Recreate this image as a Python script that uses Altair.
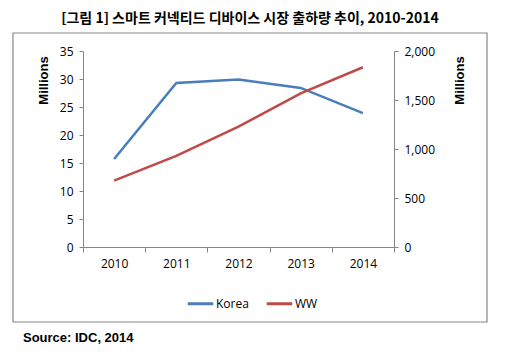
import altair as alt
import pandas as pd

years = ["2010", "2011", "2012", "2013", "2014"]
korea = [15.7, 29.3, 29.9, 28.4, 23.9]
ww = [677, 929, 1228, 1568, 1834]
series = ["Korea", "WW"]
colors = ["#4A7EBB", "#BE4B48"]
left_ticks = [0, 5, 10, 15, 20, 25, 30, 35]
right_ticks = [0, 500, 1000, 1500, 2000]
title_text = "[그림 1] 스마트 커넥티드 디바이스 시장 출하량 추이, 2010-2014"
source_text = "Source: IDC, 2014"
axis_title = "Millions"

df = pd.DataFrame({
    "year": years * 2,
    "series": ["Korea"] * len(years) + ["WW"] * len(years),
    "value": korea + ww,
})
one = pd.DataFrame({"t": [title_text], "s": [source_text]})

AX = "#868686"
LABEL_FONT = "Open Sans"

x_enc = alt.X(
    "year:O",
    bandPosition=0.5,
    scale=alt.Scale(type="band", paddingInner=0, paddingOuter=0),
    axis=alt.Axis(title=None, labelAngle=0, tickBand="extent", domainColor=AX,
                  tickColor=AX, tickSize=5, labelPadding=6, labelFont=LABEL_FONT,
                  labelFontSize=12, labelColor="#000000", grid=False),
)

color_enc = alt.Color(
    "series:N",
    scale=alt.Scale(domain=series, range=colors),
    legend=alt.Legend(orient="none", legendX=103, legendY=238, direction="horizontal",
                      title=None, symbolType="stroke", symbolSize=650,
                      symbolStrokeWidth=3, labelFont=LABEL_FONT, labelFontSize=12,
                      labelColor="#000000", labelOffset=1, columnPadding=11),
)

base = alt.Chart(df)

korea_line = base.transform_filter(alt.datum.series == "Korea").mark_line(strokeWidth=2.5).encode(
    x=x_enc,
    y=alt.Y("value:Q", scale=alt.Scale(domain=[0, 35]),
            axis=alt.Axis(title=axis_title, values=left_ticks, grid=False, orient="left",
                          domainColor=AX, tickColor=AX, tickSize=4, labelPadding=6,
                          labelFont=LABEL_FONT, labelFontSize=12, labelColor="#000000",
                          titleFont="Liberation Sans", titleFontWeight="bold",
                          titleFontSize=13, titleAngle=270, titleX=-40, titleY=29,
                          titleAlign="center", titleBaseline="middle")),
    color=color_enc,
)

ww_line = base.transform_filter(alt.datum.series == "WW").mark_line(strokeWidth=2.5).encode(
    x=x_enc,
    y=alt.Y("value:Q", scale=alt.Scale(domain=[0, 2000]),
            axis=alt.Axis(title=axis_title, values=right_ticks, format=",.0f", grid=False,
                          orient="right", domainColor=AX, tickColor=AX, tickSize=4,
                          labelPadding=6, labelFont=LABEL_FONT, labelFontSize=12,
                          labelColor="#000000", titleFont="Liberation Sans",
                          titleFontWeight="bold", titleFontSize=13, titleAngle=270,
                          titleX=65, titleY=29, titleAlign="center",
                          titleBaseline="middle")),
    color=color_enc,
)

border = alt.Chart(one).mark_rect(fill=None, stroke=AX, strokeWidth=1.2).encode(
    x=alt.value(-70), x2=alt.value(404), y=alt.value(-18), y2=alt.value(271)
)

title = alt.Chart(one).mark_text(
    font="Noto Sans CJK KR", fontWeight="bold", fontSize=14, align="center",
    baseline="middle", color="#000000"
).encode(text="t:N", x=alt.value(167), y=alt.value(-32))

source = alt.Chart(one).mark_text(
    font="Liberation Sans", fontWeight="bold", fontSize=13, align="left",
    baseline="middle", color="#000000"
).encode(text="s:N", x=alt.value(-60), y=alt.value(287))

chart = alt.layer(border, title, source, korea_line, ww_line).resolve_scale(
    y="independent"
).properties(
    width=311, height=196,
    autosize=alt.AutoSizeParams(type="none"),
    padding={"left": 75, "top": 43, "right": 95, "bottom": 100},
).configure_view(stroke=None)

chart.save("out.html", embed_options={"renderer": "svg", "actions": False})
